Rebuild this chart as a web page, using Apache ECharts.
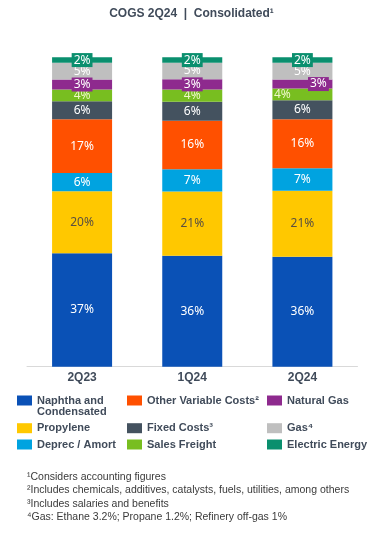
<!DOCTYPE html>
<html><head><meta charset="utf-8">
<script src="https://cdn.jsdelivr.net/npm/echarts@6/dist/echarts.min.js"></script>
<style>html,body{margin:0;padding:0;background:#fff}#c{width:383px;height:539px}</style>
</head><body><div id="c"></div>
<script>
const categories = ['2Q23', '1Q24', '2Q24'];
const seriesNames = ['Naphtha and\nCondensated', 'Propylene', 'Deprec / Amort', 'Other Variable Costs²', 'Fixed Costs³', 'Sales Freight', 'Natural Gas', 'Gas⁴', 'Electric Energy'];
const naphtha = [36.7, 35.9, 35.5];
const propylene = [20.0, 20.7, 21.4];
const deprec = [5.9, 7.2, 7.2];
const otherVariable = [17.4, 15.7, 15.9];
const fixedCosts = [5.8, 6.1, 6.1];
const salesFreight = [3.8, 4.0, 3.8];
const naturalGas = [3.2, 3.3, 2.9];
const gas = [5.4, 5.3, 5.4];
const electricEnergy = [1.8, 1.8, 1.8];
const footnotes = [
  '¹Considers accounting figures',
  '²Includes chemicals, additives, catalysts, fuels, utilities, among others',
  '³Includes salaries and benefits',
  '⁴Gas: Ethane 3.2%; Propane 1.2%; Refinery off-gas 1%'
];

const values = [naphtha, propylene, deprec, otherVariable, fixedCosts, salesFreight, naturalGas, gas, electricEnergy];
const colors = ['#0A51B6', '#FFC800', '#00A3E0', '#FF5000', '#44525F', '#78BE20', '#8E2A8E', '#BFBFBF', '#0A8F6E'];
const labelColors = ['#fff', '#5a5040', '#fff', '#fff', '#fff', '#eef7c8', '#fff', '#fff', '#fff'];
const textDark = '#404B5A';

const series = values.map((arr, si) => ({
  name: seriesNames[si],
  type: 'bar',
  stack: 'cogs',
  barWidth: 60,
  itemStyle: { color: colors[si] },
  label: {
    show: true,
    position: 'inside',
    fontFamily: 'Noto Sans',
    fontSize: 12,
    lineHeight: 12,
    color: labelColors[si],
    formatter: p => Math.round(p.value) + '%',
    backgroundColor: (si === 8 || si === 6) ? colors[si] : 'transparent',
    padding: (si === 8 || si === 6) ? [1, 2] : 0
  },
  data: arr.map((v, i) => {
    const d = { value: v };
    if (i === 2 && si === 6) d.label = { offset: [16, 0] };
    if (i === 2 && si === 5) d.label = { offset: [-20, 0] };
    return d;
  })
}));

// legend: column-major in stack order, 3 columns
const colLeft = [17, 127, 267];
const rowTop = [395.5, 423.2, 439.5];
const legends = seriesNames.map((n, si) => {
  const col = Math.floor(si / 3), row = si % 3;
  const multi = n.indexOf('\n') >= 0;
  return {
    data: [n],
    left: colLeft[col],
    top: multi ? rowTop[row] - 11.5 : rowTop[row] - 0.5,
    padding: 0,
    itemWidth: 15,
    itemHeight: 10,
    itemGap: 0,
    selectedMode: false,
    icon: 'rect',
    formatter: multi ? (name => ' \n' + name) : null,
    textStyle: {
      fontFamily: 'Liberation Sans',
      fontWeight: 'bold',
      fontSize: 11,
      lineHeight: 11,
      color: textDark
    }
  };
});

const chart = echarts.init(document.getElementById('c'));
chart.setOption({
  animation: false,
  title: [{
    text: 'COGS 2Q24  |  Consolidated¹',
    left: 'center',
    top: 8,
    padding: 0,
    textStyle: { fontFamily: 'Liberation Sans', fontWeight: 'bold', fontSize: 12, color: textDark }
  }, {
    text: footnotes.join('\n'),
    left: 27,
    top: 470,
    padding: 0,
    textStyle: { fontFamily: 'Liberation Sans', fontWeight: 'normal', fontSize: 10.5, lineHeight: 13.5, color: '#3a3a3a' }
  }],
  legend: legends,
  grid: { left: 27, right: 25.5, top: 57.3, bottom: 172.3, containLabel: false },
  xAxis: {
    type: 'category',
    data: categories,
    axisTick: { show: false },
    axisLine: { lineStyle: { color: '#D9D9D9', width: 1 } },
    axisLabel: { fontFamily: 'Liberation Sans', fontWeight: 'bold', fontSize: 12, color: textDark, margin: 5 }
  },
  yAxis: { type: 'value', min: 0, max: 100, show: false },
  series: series
});
</script>
</body></html>
